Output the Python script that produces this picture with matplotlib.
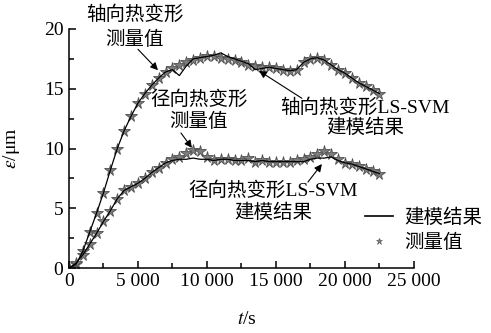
import matplotlib
matplotlib.use('Agg')
import matplotlib.pyplot as plt
from matplotlib.lines import Line2D

plt.rcParams['font.family'] = ['Liberation Serif', 'Noto Sans CJK SC']
plt.rcParams['mathtext.fontset'] = 'stix'
plt.rcParams['font.size'] = 14

# 采样时间 (s)
t = [0, 500, 1000, 1500, 2000, 2500, 3000, 3500, 4000, 4500,
     5000, 5500, 6000, 6500, 7000, 7500, 8000, 8500, 9000, 9500,
     10000, 10500, 11000, 11500, 12000, 12500, 13000, 13500, 14000, 14500,
     15000, 15500, 16000, 16500, 17000, 17500, 18000, 18500, 19000, 19500,
     20000, 20500, 21000, 21500, 22000, 22500]

# 轴向热变形 (μm)
axial_meas = [0.0, 0.3, 1.4, 3.0, 4.6, 6.3, 8.2, 10.0, 11.5, 12.7,
              13.8, 14.6, 15.3, 15.9, 16.4, 16.7, 17.0, 17.2, 17.4, 17.6,
              17.7, 17.7, 17.6, 17.5, 17.4, 17.2, 17.0, 16.9, 16.8, 16.8,
              16.7, 16.6, 16.5, 16.6, 17.2, 17.5, 17.6, 17.4, 17.0, 16.6,
              16.3, 15.9, 15.5, 15.2, 14.9, 14.6]
axial_model = [0.0, 0.3, 1.4, 3.0, 4.6, 6.3, 8.2, 10.0, 11.5, 12.7,
               13.8, 14.6, 15.3, 15.9, 16.4, 16.6, 16.1, 16.9, 17.5, 17.6,
               17.7, 17.8, 18.0, 17.7, 17.5, 17.3, 17.1, 16.6, 16.7, 16.8,
               16.7, 16.6, 16.5, 16.6, 17.2, 17.5, 17.6, 17.4, 17.0, 16.6,
               16.3, 15.9, 15.5, 15.2, 14.9, 14.6]

# 径向热变形 (μm)
radial_meas = [0.0, 0.4, 1.1, 2.0, 2.9, 3.9, 4.8, 5.8, 6.5, 6.8,
               7.1, 7.5, 8.0, 8.4, 8.8, 9.1, 9.3, 9.6, 9.9, 9.8,
               9.3, 9.0, 9.1, 9.1, 9.0, 9.0, 9.2, 8.9, 9.0, 8.9,
               8.9, 8.9, 8.9, 9.0, 9.1, 9.3, 9.5, 9.8, 9.5, 9.1,
               8.8, 8.7, 8.5, 8.3, 8.1, 7.9]
radial_model = [0.0, 0.4, 1.1, 2.0, 2.9, 3.9, 4.8, 5.8, 6.5, 6.8,
                7.1, 7.5, 8.0, 8.4, 8.8, 9.0, 9.1, 9.1, 9.2, 9.1,
                9.1, 9.0, 9.1, 9.1, 9.0, 9.0, 9.0, 8.9, 9.0, 8.9,
                8.9, 8.9, 8.9, 8.9, 8.9, 9.1, 9.2, 9.2, 9.3, 9.0,
                8.8, 8.7, 8.5, 8.3, 8.1, 7.9]

xticks = [0, 5000, 10000, 15000, 20000, 25000]
xtick_labels = ['0', '5 000', '10 000', '15 000', '20 000', '25 000']
yticks = [0, 5, 10, 15, 20]

star_color = '#7c7c7c'
star_edge = '#505050'

fig = plt.figure(figsize=(4.91, 3.33), dpi=100)
ax = fig.add_axes([0.1405, 0.195, 0.7025, 0.718])

# 测量值 (星形) 与建模结果 (实线)
for meas, model in [(axial_meas, axial_model), (radial_meas, radial_model)]:
    ax.plot(t, meas, ls='none', marker='*', ms=8.5, color=star_color,
            mec=star_edge, mew=0.6, zorder=2)
    ax.plot(t, model, color='black', lw=0.9, zorder=3)

ax.set_xlim(0, 25000)
ax.set_ylim(0, 20)
ax.set_xticks(xticks)
ax.set_xticklabels(xtick_labels)
ax.set_yticks(yticks)
ax.set_xticks([2500, 7500, 12500, 17500, 22500], minor=True)
ax.set_yticks([2.5, 7.5, 12.5, 17.5], minor=True)
ax.tick_params(which='both', direction='in', width=1.1)
ax.tick_params(which='major', length=5)
ax.tick_params(which='minor', length=3.5)
ax.tick_params(axis='y', pad=4)

for side in ['top', 'right']:
    ax.spines[side].set_visible(False)
for side in ['left', 'bottom']:
    ax.spines[side].set_linewidth(1.1)

ax.set_xlabel(r'$t$/s')
ax.set_ylabel(r'$\varepsilon$/μm')
ax.xaxis.set_label_coords(0.515, -0.18)
ax.yaxis.set_label_coords(-0.135, 0.5)

# 标注文字
ax.text(4780, 21.2, '轴向热变形', ha='center', va='center', clip_on=False)
ax.text(4780, 19.1, '测量值', ha='center', va='center', clip_on=False)
ax.text(9420, 14.06, '径向热变形', ha='center', va='center')
ax.text(9420, 12.2, '测量值', ha='center', va='center')
ax.text(21450, 13.4, '轴向热变形LS-SVM', ha='center', va='center', clip_on=False)
ax.text(21450, 11.7, '建模结果', ha='center', va='center')
ax.text(14780, 6.5, '径向热变形LS-SVM', ha='center', va='center')
ax.text(14780, 4.6, '建模结果', ha='center', va='center')

arrow = dict(arrowstyle='-|>', color='black', lw=0.8,
             mutation_scale=11, shrinkA=0, shrinkB=0)
ax.annotate('', xy=(6450, 16.55), xytext=(5000, 18.3), arrowprops=arrow)
ax.annotate('', xy=(8910, 10.05), xytext=(8115, 11.3), arrowprops=arrow)
ax.annotate('', xy=(13770, 16.5), xytext=(16880, 14.2), arrowprops=arrow)
ax.annotate('', xy=(18330, 8.7), xytext=(17320, 7.2), arrowprops=arrow)

# 图例
handles = [Line2D([], [], color='black', lw=1.2),
           Line2D([], [], ls='none', marker='*', ms=5, color=star_color,
                  mec=star_edge, mew=0.4)]
ax.legend(handles, ['建模结果', '测量值'], loc='center left',
          bbox_to_anchor=(0.858, 0.159), frameon=False, borderpad=0,
          borderaxespad=0, handlelength=1.45, handletextpad=0.57,
          labelspacing=0.35)

fig.savefig('out.png', dpi=100)
